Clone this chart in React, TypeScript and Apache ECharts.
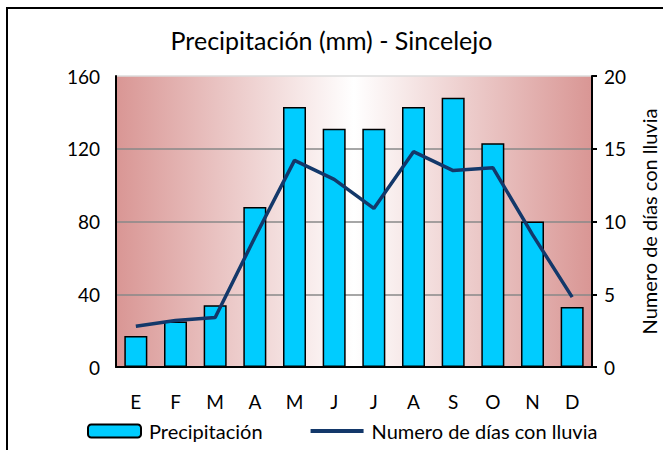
import React, { useEffect, useRef } from "react";
import * as echarts from "echarts";

const months = ["E", "F", "M", "A", "M", "J", "J", "A", "S", "O", "N", "D"];
const precipitation = [17, 25, 34, 88, 143, 131, 131, 143, 148, 123, 80, 33];
const rainyDays = [2.8, 3.2, 3.4, 8.9, 14.2, 12.9, 10.9, 14.8, 13.5, 13.7, 9.1, 4.8];
const leftTicks = { min: 0, max: 160, interval: 40 };
const rightTicks = { min: 0, max: 20, interval: 5 };

const FONT = "Lato";
const LINE_COLOR = "#13386A";

export default function App() {
  const ref = useRef<HTMLDivElement>(null);
  useEffect(() => {
    const chart = echarts.init(ref.current!, undefined, { renderer: "svg" });
    chart.setOption({
      animation: false,
      backgroundColor: "#ffffff",
      textStyle: { fontFamily: FONT },
      title: {
        text: "Precipitación (mm) - Sincelejo",
        left: "center",
        top: 22,
        textStyle: { fontFamily: FONT, fontSize: 25, fontWeight: "normal", color: "#000" },
      },
      graphic: [
        {
          type: "rect",
          shape: { x: 7, y: 8, width: 720, height: 520 },
          style: { fill: "none", stroke: "#000", lineWidth: 2 },
          silent: true,
        },
      ],
      grid: {
        left: 116,
        right: 71,
        top: 76,
        bottom: 83,
        show: true,
        borderWidth: 0,
        outerBoundsMode: "none",
        containLabel: false,
        backgroundColor: new echarts.graphic.LinearGradient(0, 0, 1, 0, [
          { offset: 0, color: "#D99694" },
          { offset: 0.5, color: "#FFFFFF" },
          { offset: 1, color: "#D99694" },
        ]),
      },
      legend: {
        left: 82,
        top: 416,
        itemWidth: 53,
        itemHeight: 13,
        itemGap: 48,
        textStyle: { fontFamily: FONT, fontSize: 20, color: "#000", padding: [0, 0, 0, 3] },
        data: [
          { name: "Precipitación" },
          {
            name: "Numero de días con lluvia",
            icon: "path://M0,0 L53,0 L53,4 L0,4 Z",
            itemStyle: { color: LINE_COLOR, borderWidth: 0 },
          },
        ],
      },
      xAxis: {
        type: "category",
        data: months,
        axisLine: { lineStyle: { color: "#000", width: 2 } },
        axisTick: { show: false },
        axisLabel: { fontFamily: FONT, fontSize: 19, color: "#000", margin: 25 },
      },
      yAxis: [
        {
          type: "value",
          ...leftTicks,
          axisLine: { show: true, lineStyle: { color: "#000", width: 2 } },
          axisTick: { show: false },
          axisLabel: { fontFamily: FONT, fontSize: 19, color: "#000", margin: 16 },
          splitLine: {
            lineStyle: { color: ["#888", "#888", "#888", "#888", "#dddddd"], width: 1.5 },
          },
        },
        {
          type: "value",
          ...rightTicks,
          position: "right",
          name: "Numero de días con lluvia",
          nameLocation: "middle",
          nameRotate: 90,
          nameGap: 47,
          nameTextStyle: { fontFamily: FONT, fontSize: 20, color: "#000" },
          axisLine: { show: true, lineStyle: { color: "#000", width: 2 } },
          axisTick: { show: true, length: 5, lineStyle: { color: "#000", width: 2 } },
          axisLabel: { fontFamily: FONT, fontSize: 19, color: "#000", margin: 12 },
          splitLine: { show: false },
        },
      ],
      series: [
        {
          name: "Precipitación",
          type: "bar",
          data: precipitation,
          barWidth: "58%",
          itemStyle: { color: "#00CCFF", borderColor: "#000", borderWidth: 1.5 },
        },
        {
          name: "Numero de días con lluvia",
          type: "line",
          yAxisIndex: 1,
          data: rainyDays,
          symbol: "none",
          lineStyle: { color: LINE_COLOR, width: 3.5 },
          itemStyle: { color: LINE_COLOR },
        },
      ],
    });
    return () => chart.dispose();
  }, []);
  return (
    <div
      ref={ref}
      style={{ position: "fixed", left: 0, top: 0, width: 663, height: 450 }}
    />
  );
}
